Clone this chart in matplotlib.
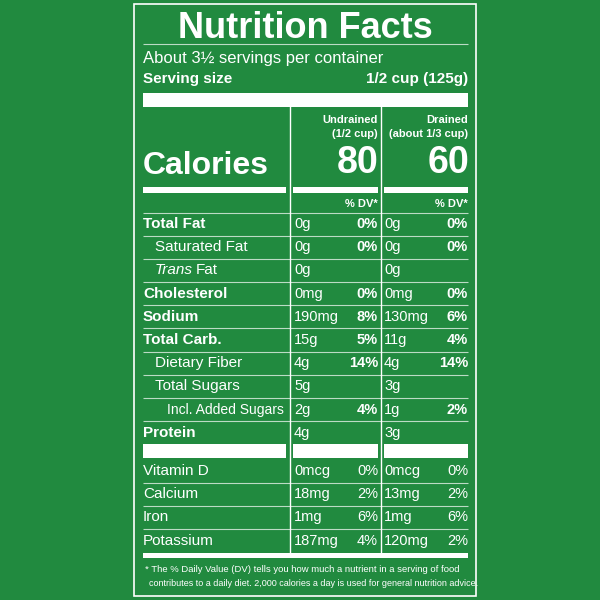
import matplotlib
matplotlib.use("Agg")
import matplotlib.pyplot as plt

BG = "#218a3f"
FAM = ['Liberation Sans Narrow', 'Liberation Sans', 'DejaVu Sans']

nutrients = ["Total Fat", "Saturated Fat", "Trans Fat", "Cholesterol", "Sodium", "Total Carb.",
             "Dietary Fiber", "Total Sugars", "Incl. Added Sugars", "Protein"]
indent = [0, 1, 1, 0, 0, 0, 1, 1, 2, 0]
bold = [True, False, False, True, True, True, False, False, False, True]
undrained_amt = ["0g", "0g", "0g", "0mg", "190mg", "15g", "4g", "5g", "2g", "4g"]
undrained_dv = ["0%", "0%", "", "0%", "8%", "5%", "14%", "", "4%", ""]
drained_amt = ["0g", "0g", "0g", "0mg", "130mg", "11g", "4g", "3g", "1g", "3g"]
drained_dv = ["0%", "0%", "", "0%", "6%", "4%", "14%", "", "2%", ""]

vitamins = ["Vitamin D", "Calcium", "Iron", "Potassium"]
vit_undrained_amt = ["0mcg", "18mg", "1mg", "187mg"]
vit_undrained_dv = ["0%", "2%", "6%", "4%"]
vit_drained_amt = ["0mcg", "13mg", "1mg", "120mg"]
vit_drained_dv = ["0%", "2%", "6%", "2%"]

calories = ["80", "60"]
col_heads = [("Undrained", "(1/2 cup)"), ("Drained", "(about 1/3 cup)")]

fig = plt.figure(figsize=(6, 6), dpi=100, facecolor=BG)
ax = fig.add_axes([0, 0, 1, 1])
ax.set_xlim(0, 600); ax.set_ylim(600, 0); ax.axis('off')
ax.set_facecolor(BG)

def T(x, y, s, size, ha='left', weight='normal', style='normal', va='center'):
    return ax.text(x, y, s, color='white', fontsize=size, ha=ha, va=va,
                   fontweight=weight, fontstyle=style, family=FAM)

def hline(y, x0=143, x1=468, lw=0.8):
    ax.plot([x0, x1], [y, y], color='white', lw=lw, alpha=0.7, solid_capstyle='butt')

def bar(y0, h, x0=143, x1=468):
    ax.add_patch(plt.Rectangle((x0, y0), x1 - x0, h, color='white', lw=0))

ax.add_patch(plt.Rectangle((134, 4), 342, 592, fill=False, ec='white', lw=1.2))

ax.text(305, 38, "Nutrition Facts", color='white', fontsize=26, fontweight='heavy',
        family=['Liberation Sans', 'DejaVu Sans'], va='baseline', ha='center')
hline(44)
T(143, 58, "About 3½ servings per container", 12)
T(143, 79, "Serving size", 11, weight='bold')
T(468, 79, "1/2 cup (125g)", 11, weight='bold', ha='right')
bar(93, 14)

for x in (290, 381):
    ax.plot([x, x], [107, 552], color='white', lw=1)

cols = [(294, 378), (384, 468)]
for (x0, x1), (h1, h2), c in zip(cols, col_heads, calories):
    T(x1, 120, h1, 8, ha='right', weight='bold')
    T(x1, 134, h2, 8, ha='right', weight='bold')
    T(x1 + 1, 163, c, 27, ha='right', weight='bold')
T(143, 166, "Calories", 23, weight='bold')
bar(187, 6, 143, 286); bar(187, 6, 293, 378); bar(187, 6, 384, 468)
for x0, x1 in cols:
    T(x1, 204, "% DV*", 8, ha='right', weight='bold')
hline(212.5)

y0 = 224; dy = 23.2
for i, n in enumerate(nutrients):
    y = y0 + i * dy
    x = 143 + 12 * indent[i]
    fs = 10 if indent[i] == 2 else 11
    if n == "Trans Fat":
        tt = T(x, y, "Trans", fs, style='italic')
        fig.canvas.draw()
        w = tt.get_window_extent().width
        T(x + w + 3, y, "Fat", fs)
    else:
        T(x, y, n, fs, weight='bold' if bold[i] else 'normal')
    for (cx0, cx1), a, d in zip(cols, (undrained_amt, drained_amt), (undrained_dv, drained_dv)):
        T(cx0, y, a[i], 10.5)
        T(cx1, y, d[i], 10.5, ha='right', weight='bold')
    if i < len(nutrients) - 1:
        hline(y + 11.6)
bar(444, 14, 143, 286); bar(444, 14, 293, 378); bar(444, 14, 384, 468)

y0 = 471
for i, n in enumerate(vitamins):
    y = y0 + i * dy
    T(143, y, n, 11)
    for (cx0, cx1), a, d in zip(cols, (vit_undrained_amt, vit_drained_amt), (vit_undrained_dv, vit_drained_dv)):
        T(cx0, y, a[i], 10.5)
        T(cx1, y, d[i], 10.5, ha='right')
    if i < len(vitamins) - 1:
        hline(y + 11.6)
bar(553, 5)
T(145, 569, "* The % Daily Value (DV) tells you how much a nutrient in a serving of food", 6.8)
T(149, 583, "contributes to a daily diet. 2,000 calories a day is used for general nutrition advice.", 6.5)

fig.savefig("out.png", dpi=100, facecolor=BG)
